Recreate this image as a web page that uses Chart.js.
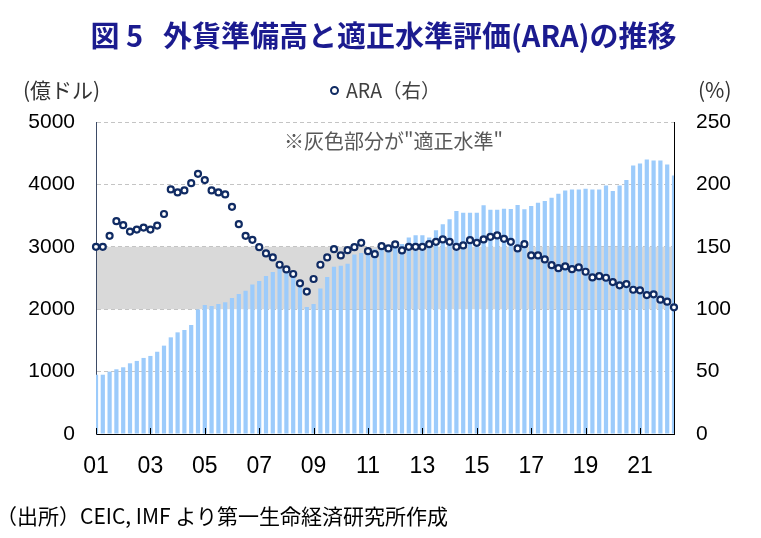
<!DOCTYPE html>
<html lang="ja">
<head>
<meta charset="utf-8">
<title>外貨準備高と適正水準評価(ARA)の推移</title>
<script src="https://cdn.jsdelivr.net/npm/chart.js@4.4.1/dist/chart.umd.min.js"></script>
<style>
    body { margin: 0; background: #fff; }
    #wrap { position: relative; width: 761px; height: 538px; font-family: "Noto Sans CJK JP", "Noto Sans", sans-serif; }
    #chartBox { position: absolute; left: 0; top: 0; width: 761px; height: 538px; }
    .txt { position: absolute; white-space: nowrap; line-height: 1.2; }
    #title { left: 3px; width: 761px; top: 17px; text-align: center; font-size: 29px; font-weight: bold; color: #1b1b8f; }
    #unitLeft { left: 23px; top: 77px; font-size: 21px; color: #333; }
    #unitRight { left: 698px; top: 77px; font-size: 21px; color: #333; }
    #legend { left: 330px; top: 78px; font-size: 19.5px; color: #404040; }
    #legend .dot { display: inline-block; width: 5px; height: 5px; border: 2px solid #102b63; border-radius: 50%; background: #fff; margin-right: 7px; vertical-align: 3px; }
    #note { left: 284px; top: 129px; font-size: 20px; color: #595959; }
    #source { left: -4px; top: 503px; font-size: 21px; color: #000; }
</style>
</head>
<body>
<div id="wrap">
    <div id="chartBox"><canvas id="araChart"></canvas></div>
    <div class="txt" id="title">図 5&nbsp;&nbsp; 外貨準備高と適正水準評価(ARA)の推移</div>
    <div class="txt" id="unitLeft">(億ドル)</div>
    <div class="txt" id="legend"><span class="dot"></span>ARA（右）</div>
    <div class="txt" id="unitRight">(%)</div>
    <div class="txt" id="note">※灰色部分が"適正水準"</div>
    <div class="txt" id="source">（出所）CEIC, IMF より第一生命経済研究所作成</div>
</div>
<script>
// quarterly, 2001Q1 - 2022Q2
const years = ['01','02','03','04','05','06','07','08','09','10','11',
               '12','13','14','15','16','17','18','19','20','21','22'];
const quarters = ['Q1','Q2','Q3','Q4'];
const yearTickLabels = ['01','03','05','07','09','11','13','15','17','19','21'];

// 外貨準備高 (億ドル, left axis)
const reserves = [
    950, 950, 1000, 1037, 1069, 1133, 1171, 1219, 1251, 1318,
    1416, 1549, 1629, 1667, 1747, 1997, 2067, 2051, 2083, 2112,
    2180, 2243, 2296, 2397, 2451, 2531, 2595, 2650, 2630, 2580,
    2410, 2035, 2083, 2333, 2515, 2680, 2696, 2728, 2877, 2899,
    2920, 2960, 2990, 2980, 3040, 3045, 3150, 3185, 3185, 3150,
    3264, 3360, 3440, 3573, 3547, 3547, 3547, 3664, 3595, 3595,
    3611, 3605, 3669, 3600, 3653, 3707, 3733, 3787, 3851, 3904,
    3920, 3920, 3931, 3920, 3920, 3984, 3893, 3984, 4069, 4304,
    4336, 4400, 4384, 4384, 4320, 4144
];

// ARA (%, right axis)
const ara = [
    150, 150, 158.8, 170.5, 167.3, 162.2, 163.8, 165.4, 163.8, 167,
    176.3, 196, 193.6, 195.2, 201, 208.5, 203.5, 195.2, 193.6, 192,
    182, 168.1, 158.8, 155.6, 149.7, 144.7, 141.5, 135.6, 131.9, 128.2,
    120.7, 114.1, 124.2, 135.6, 141.5, 148.1, 143.1, 147.3, 149.7, 153.2,
    146.5, 144.1, 150.5, 148.7, 151.9, 147.1, 150, 150, 150, 152.1,
    154, 155.9, 154, 150, 151.1, 155.3, 153.2, 155.9, 158, 159.1,
    156.4, 154, 148.7, 152.1, 143.1, 143.1, 139.9, 135.3, 132.9, 134.3,
    132.1, 133.5, 130, 125.5, 126.5, 125.2, 121.7, 119.1, 120.1, 115.6,
    115.1, 111.3, 111.9, 107.6, 106, 101.5
];

// ARA adequacy range (%)
const adequateRange = [100, 150];

const categories = years.flatMap(y => quarters.map(q => y + q)).slice(0, reserves.length);

function yearLabel(index) {
    const c = categories[index];
    const y = c.slice(0, 2);
    return (c.endsWith('Q1') && yearTickLabels.includes(y)) ? y : '';
}

// grey band for the adequate range, under grid and bars
const bandPlugin = {
    id: 'adequateBand',
    beforeDraw(chart) {
        const area = chart.chartArea;
        const y2 = chart.scales.y2;
        const top = y2.getPixelForValue(adequateRange[1]);
        const bottom = y2.getPixelForValue(adequateRange[0]);
        const ctx = chart.ctx;
        ctx.save();
        ctx.fillStyle = '#d9d9d9';
        ctx.fillRect(area.left, top, area.right - area.left, bottom - top);
        ctx.restore();
    }
};

// short tick marks pointing into the plot
const innerTicks = {
    id: 'innerTicks',
    afterDatasetsDraw(chart) {
        const x = chart.scales.x;
        const bottom = chart.chartArea.bottom;
        const ctx = chart.ctx;
        ctx.save();
        ctx.strokeStyle = '#000';
        ctx.lineWidth = 1;
        ctx.beginPath();
        x.ticks.forEach((t, i) => {
            if (!yearLabel(i)) return;
            const px = Math.round(x.getPixelForTick(i)) + 0.5;
            ctx.moveTo(px, bottom);
            ctx.lineTo(px, bottom - 6);
        });
        ctx.stroke();
        ctx.restore();
    }
};

Chart.defaults.font.family = '"Liberation Sans", Arial, sans-serif';

const ctx = document.getElementById('araChart').getContext('2d');
new Chart(ctx, {
    type: 'bar',
    data: {
        labels: categories,
        datasets: [{
            type: 'line',
            label: 'ARA（右）',
            data: ara,
            yAxisID: 'y2',
            showLine: false,
            borderColor: '#102b63',
            backgroundColor: '#ffffff',
            borderWidth: 2,
            pointRadius: 3,
            pointBorderWidth: 2.2,
            pointBorderColor: '#102b63',
            pointBackgroundColor: '#ffffff',
            clip: false,
            order: 0
        }, {
            label: '外貨準備高',
            data: reserves,
            yAxisID: 'y',
            backgroundColor: '#9ccbfb',
            categoryPercentage: 1,
            barPercentage: 0.62,
            order: 1
        }]
    },
    options: {
        responsive: true,
        maintainAspectRatio: false,
        animation: false,
        layout: { padding: { top: 122, left: 0, right: 0, bottom: 0 } },
        plugins: {
            title: { display: false },
            legend: { display: false },
            tooltip: { enabled: false }
        },
        scales: {
            x: {
                offset: false,
                grid: { display: false, drawTicks: false },
                border: { display: true, color: '#000', width: 1 },
                ticks: {
                    autoSkip: false,
                    maxRotation: 0,
                    minRotation: 0,
                    padding: 19,
                    color: '#000',
                    font: { family: '"Liberation Sans Narrow", "Liberation Sans", Arial, sans-serif', size: 23 },
                    callback: (value, index) => yearLabel(index)
                },
                afterFit(scale) { scale.height = 104; }
            },
            y: {
                position: 'left',
                min: 0,
                max: 5000,
                grid: { color: '#c4c4c4', drawTicks: false },
                border: { display: true, color: '#3d4b66', width: 1, dash: [4, 3] },
                ticks: {
                    stepSize: 1000,
                    padding: 21,
                    color: '#000',
                    font: { size: 21 },
                    callback: v => String(v)
                },
                afterFit(scale) { scale.width = 96; }
            },
            y2: {
                position: 'right',
                min: 0,
                max: 250,
                grid: { display: false, drawTicks: false },
                border: { display: true, color: '#000', width: 1 },
                ticks: {
                    stepSize: 50,
                    padding: 22,
                    color: '#000',
                    font: { size: 21 },
                    callback: v => String(v)
                },
                afterFit(scale) { scale.width = 87; }
            }
        }
    },
    plugins: [bandPlugin, innerTicks]
});
</script>
</body>
</html>
